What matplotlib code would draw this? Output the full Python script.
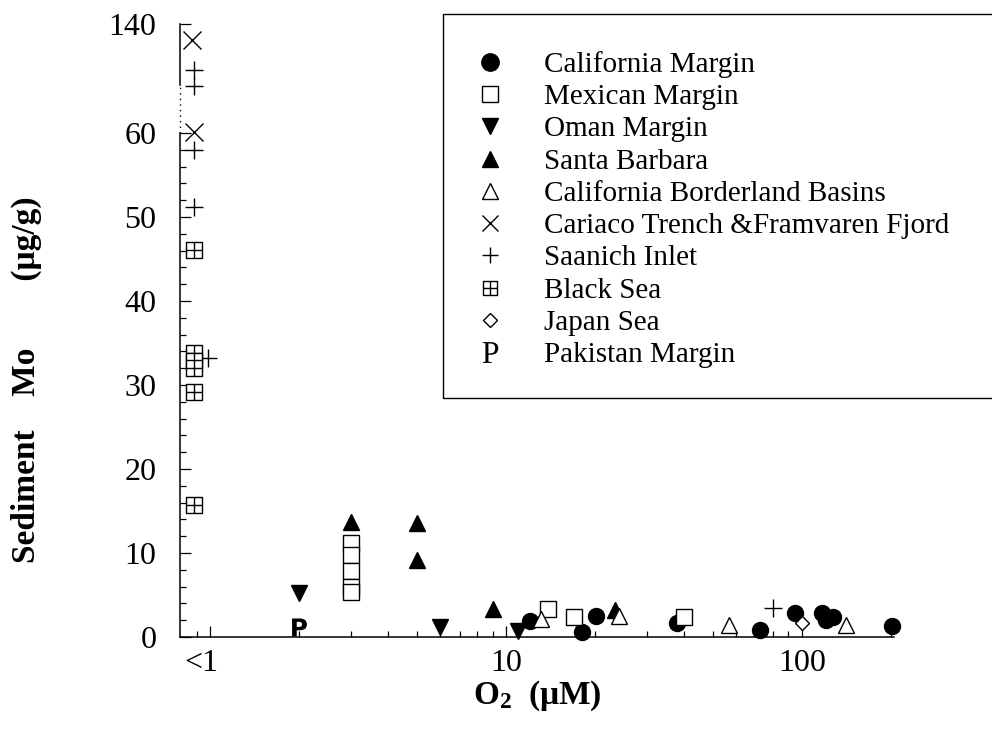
import numpy as np
import matplotlib
matplotlib.use("Agg")
import matplotlib.pyplot as plt
from matplotlib.lines import Line2D
from matplotlib.path import Path
from matplotlib.patches import Rectangle
from matplotlib.transforms import ScaledTranslation
from matplotlib.ticker import FixedLocator, FixedFormatter, NullFormatter

plt.rcParams["font.family"] = ["Liberation Serif", "DejaVu Serif"]
plt.rcParams["mathtext.fontset"] = "custom"
plt.rcParams["mathtext.rm"] = "Liberation Serif"
plt.rcParams["mathtext.bf"] = "Liberation Serif:bold"
plt.rcParams["mathtext.sf"] = "DejaVu Sans:bold"

# -------------------------
# Data (O2 in uM, sediment Mo in ug/g)
# -------------------------
cal_x = [12.0, 18.1, 20.1, 37.8, 72.1, 94.7, 117, 121, 127, 201]
cal_y = [1.9, 0.6, 2.5, 1.7, 0.8, 2.9, 2.9, 2.0, 2.4, 1.3]

mex_x = [3.0, 3.0, 3.0, 3.0, 3.0, 13.9, 17.0, 39.9]
mex_y = [11.2, 9.8, 7.9, 6.0, 5.4, 3.3, 2.4, 2.4]

oman_x = [2.0, 6.0, 11.0]
oman_y = [5.2, 1.2, 0.7]

sb_x = [3.0, 5.0, 5.0, 9.0, 23.3]
sb_y = [13.7, 13.6, 9.2, 3.3, 3.2]

cbb_x = [13.1, 24.1, 56.6, 141]
cbb_y = [2.2, 2.5, 1.4, 1.4]

cariaco_x = [0.87, 0.88]
cariaco_y = [128.3, 60.5]

saanich_x = [0.88, 0.88, 0.88, 0.88, 0.98, 79.8]
saanich_y = [106.2, 94.5, 58.0, 51.2, 33.2, 3.45]

black_x = [0.88, 0.88, 0.88, 0.88, 0.88, 0.88]
black_y = [46.1, 33.8, 32.9, 32.0, 29.2, 15.7]

japan_x = [100]
japan_y = [1.7]

pak_x = [2.0]
pak_y = [1.2]

labels = ["California Margin", "Mexican Margin", "Oman Margin", "Santa Barbara",
          "California Borderland Basins", "Cariaco Trench &Framvaren Fjord",
          "Saanich Inlet", "Black Sea", "Japan Sea", "Pakistan Margin"]

x_major = [1, 10, 100]
x_major_labels = ["<1", "10", "100"]
y_major = [0, 10, 20, 30, 40, 50, 60, 140]

# broken y axis: 0-60 linear, 60-140 squeezed
BREAK = 60
SQUEEZE = 0.162


def fwd(y):
    y = np.asarray(y, dtype=float)
    return np.where(y <= BREAK, y, BREAK + (y - BREAK) * SQUEEZE)


def inv(t):
    t = np.asarray(t, dtype=float)
    return np.where(t <= BREAK, t, BREAK + (t - BREAK) / SQUEEZE)


# square with a cross inside (Black Sea)
boxplus = Path(
    [(-1, -1), (1, -1), (1, 1), (-1, 1), (-1, -1), (0, -1), (0, 1), (-1, 0), (1, 0)],
    [Path.MOVETO, Path.LINETO, Path.LINETO, Path.LINETO, Path.CLOSEPOLY,
     Path.MOVETO, Path.LINETO, Path.MOVETO, Path.LINETO],
)

# marker, size in plot, size in legend, face colour
styles = [
    ("o", 11.5, 12.5, "black"),
    ("s", 11.5, 11.0, "white"),
    ("v", 12, 11.5, "black"),
    ("^", 12, 11.5, "black"),
    ("^", 12, 11.0, "white"),
    ("x", 13, 12.0, "none"),
    ("+", 13, 12.0, "none"),
    (boxplus, 11.5, 10.5, "white"),
    ("D", 7, 7.5, "white"),
    ("P", 13, 15, "black"),
]
series = [(cal_x, cal_y), (mex_x, mex_y), (oman_x, oman_y), (sb_x, sb_y),
          (cbb_x, cbb_y), (cariaco_x, cariaco_y), (saanich_x, saanich_y),
          (black_x, black_y), (japan_x, japan_y), (pak_x, pak_y)]

fig = plt.figure(figsize=(9.92, 7.3), dpi=100)
ax = fig.add_axes([0.1815, 0.1274, 0.7198, 0.8397])
ax.set_xscale("log")
ax.set_yscale("function", functions=(fwd, inv))
ax.set_xlim(0.79, 205)
ax.set_ylim(0, 140)

handles = []
for (xs, ys), (mk, ms, lms, fc) in zip(series, styles):
    if mk == "P":
        # letter marker: sans in the plot, serif in the legend
        ax.plot(xs, ys, ls="none", marker=r"$\mathsf{P}$", ms=ms, mfc="black",
                mec="black", mew=0, clip_on=False)
        handles.append(Line2D([], [], ls="none", marker=r"$\mathrm{P}$", ms=lms,
                              mfc="black", mec="black", mew=0))
        continue
    ax.plot(xs, ys, ls="none", marker=mk, ms=ms, mfc=fc, mec="black",
            mew=1.0, clip_on=False)
    handles.append(Line2D([], [], ls="none", marker=mk, ms=lms, mfc=fc,
                          mec="black", mew=1.0))

# axes frame: only left and bottom, left one broken above 60
for side in ("top", "right"):
    ax.spines[side].set_visible(False)
ax.spines["left"].set_bounds(0, 60)
ax.spines["left"].set_linewidth(1.1)
ax.spines["bottom"].set_linewidth(1.1)
ytr = ax.get_yaxis_transform()
ax.plot([0, 0], [60, 95], transform=ytr, color="black", lw=1.0,
        ls=(0, (1, 3)), clip_on=False)
ax.plot([0, 0], [95, 140], transform=ytr, color="black", lw=1.1, clip_on=False)

ax.xaxis.set_major_locator(FixedLocator(x_major))
ax.xaxis.set_major_formatter(FixedFormatter(x_major_labels))
ax.xaxis.set_minor_locator(FixedLocator([0.9] + list(range(2, 10))
                                        + list(range(20, 100, 10)) + [200]))
ax.xaxis.set_minor_formatter(NullFormatter())
ax.yaxis.set_major_locator(FixedLocator(y_major))
ax.yaxis.set_minor_locator(FixedLocator([v for v in range(2, 60, 2) if v % 10]))
ax.yaxis.set_minor_formatter(NullFormatter())

ax.tick_params(which="both", direction="in", width=0.9, colors="black")
ax.tick_params(which="major", length=8)
ax.tick_params(which="minor", length=4.3)
ax.tick_params(axis="y", which="major", labelsize=23, pad=17)
ax.tick_params(axis="x", which="major", labelsize=23, pad=9)

# "<1" sits a little left of its tick
shift = ScaledTranslation(-9 / 100, 0, fig.dpi_scale_trans)
first = ax.xaxis.get_major_ticks()[0].label1
first.set_transform(first.get_transform() + shift)

ax.set_xlabel(r"$\mathbf{O_2}$  (μM)", fontsize=24, fontweight="bold", labelpad=0)
ax.set_ylabel("Sediment    Mo        (μg/g)", fontsize=24, fontweight="bold")
ax.yaxis.set_label_coords(-0.193, 0.42)

# legend in a box running off the right edge
fig.legend(handles, labels, loc="upper left",
           bbox_to_anchor=(474 / 992, 1 - 51 / 730), bbox_transform=fig.transFigure,
           frameon=False, fontsize=21, handlelength=1.1, handletextpad=1.3,
           labelspacing=0.2, borderpad=0, borderaxespad=0)
fig.patches.append(Rectangle((443 / 992, 1 - 398 / 730), 0.6, (398 - 14) / 730,
                             transform=fig.transFigure, fill=False,
                             ec="black", lw=1.0))

fig.savefig("out.png", dpi=100)
